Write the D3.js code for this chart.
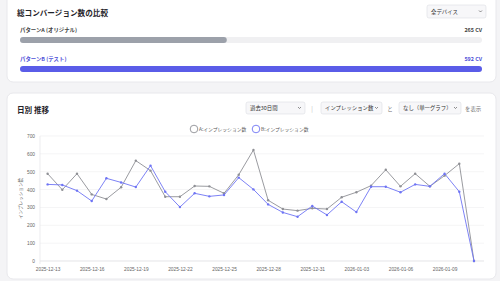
<script src="https://cdn.jsdelivr.net/npm/d3@7"></script>
<style>
  body { margin: 0; background: #f4f4f6; }
  svg { display: block; font-family: "Noto Sans CJK JP", "Noto Sans", sans-serif; }
</style>
<svg id="main_canvas" width=500 height=281></svg>
<script>
  "use strict";
  const WIDTH = 500;
  const HEIGHT = 281;

  // --- data ---
  const patterns = ["パターンA (オリジナル)", "パターンB (テスト)"];
  const conversions = [265, 592];

  const dates = [
    "2025-12-13", "2025-12-14", "2025-12-15", "2025-12-16", "2025-12-17", "2025-12-18",
    "2025-12-19", "2025-12-20", "2025-12-21", "2025-12-22", "2025-12-23", "2025-12-24",
    "2025-12-25", "2025-12-26", "2025-12-27", "2025-12-28", "2025-12-29", "2025-12-30",
    "2025-12-31", "2026-01-01", "2026-01-02", "2026-01-03", "2026-01-04", "2026-01-05",
    "2026-01-06", "2026-01-07", "2026-01-08", "2026-01-09", "2026-01-10", "2026-01-11"
  ];
  const impressionsA = [489, 399, 489, 373, 347, 413, 562, 506, 360, 360, 420, 418,
                        379, 483, 622, 340, 291, 282, 295, 291, 357, 385, 422, 511,
                        418, 489, 418, 478, 545, 0];
  const impressionsB = [429, 426, 394, 336, 463, 440, 414, 534, 388, 302, 379, 362,
                        370, 467, 401, 317, 272, 248, 308, 258, 332, 274, 416, 416,
                        385, 429, 418, 489, 388, 0];
  const yTicks = [0, 100, 200, 300, 400, 500, 600, 700];
  const seriesNames = ["A:インプレッション数", "B:インプレッション数"];

  const GREY = "#8f9095";
  const BLUE = "#6e74f4";
  const BAR_A = "#9ca1aa";
  const BAR_B = "#5a5ce8";

  const canvas = d3.select("#main_canvas");

  // Cards
  canvas.append("rect")
    .attr("x", 7).attr("y", -6).attr("width", 489).attr("height", 88)
    .attr("rx", 6).attr("fill", "white").attr("stroke", "#e8e8ec");
  canvas.append("rect")
    .attr("x", 7).attr("y", 93).attr("width", 489).attr("height", 186)
    .attr("rx", 6).attr("fill", "white").attr("stroke", "#e8e8ec");

  // --- top card: conversion comparison ---
  canvas.append("text")
    .attr("x", 17).attr("y", 16)
    .attr("font-size", 7.6).attr("font-weight", "bold").attr("fill", "#1f2328")
    .text("総コンバージョン数の比較");

  // device select
  const drawSelect = (x, y, w, h, label) => {
    canvas.append("rect")
      .attr("x", x).attr("y", y).attr("width", w).attr("height", h)
      .attr("rx", 2).attr("fill", "#f7f7f9").attr("stroke", "#dcdde2").attr("stroke-width", 0.6);
    canvas.append("text")
      .attr("x", x + 4).attr("y", y + h / 2 + 2)
      .attr("font-size", 5.4).attr("fill", "#333")
      .text(label);
    canvas.append("path")
      .attr("d", `M${x + w - 7},${y + h / 2 - 1} l1.5,1.5 l1.5,-1.5`)
      .attr("fill", "none").attr("stroke", "#444").attr("stroke-width", 0.6);
  };
  drawSelect(427, 5, 59, 13, "全デバイス");

  const barScale = d3.scaleLinear().domain([0, d3.max(conversions)]).range([0, 462]);
  const barTop = [37, 66];
  const labelY = [32, 61];
  const barColors = [BAR_A, BAR_B];
  const labelColors = ["#444", "#4e4fd8"];

  patterns.forEach((p, i) => {
    canvas.append("text")
      .attr("x", 20).attr("y", labelY[i])
      .attr("font-size", 5.4).attr("font-weight", "bold").attr("fill", labelColors[i])
      .text(p);
    canvas.append("text")
      .attr("x", 482).attr("y", labelY[i]).attr("text-anchor", "end")
      .attr("font-size", 5.4).attr("font-weight", "bold").attr("fill", labelColors[i])
      .text(`${conversions[i]} CV`);
    canvas.append("rect")
      .attr("x", 20).attr("y", barTop[i]).attr("width", 462).attr("height", 6)
      .attr("rx", 3).attr("fill", "#f0f0f2");
    canvas.append("rect")
      .attr("x", 20).attr("y", barTop[i]).attr("width", barScale(conversions[i])).attr("height", 6)
      .attr("rx", 3).attr("fill", barColors[i]);
  });

  // --- bottom card: daily trend ---
  canvas.append("text")
    .attr("x", 17).attr("y", 113)
    .attr("font-size", 7.6).attr("font-weight", "bold").attr("fill", "#1f2328")
    .text("日別 推移");

  drawSelect(246, 102, 59, 12, "過去30日間");
  canvas.append("text").attr("x", 312).attr("y", 110.5).attr("font-size", 6).attr("fill", "#bbb")
    .attr("text-anchor", "middle").text("|");
  drawSelect(321, 102, 61, 12, "インプレッション数");
  canvas.append("text").attr("x", 390).attr("y", 110.5).attr("font-size", 5.4).attr("fill", "#777")
    .attr("text-anchor", "middle").text("と");
  drawSelect(399, 102, 62, 12, "なし（単一グラフ）");
  canvas.append("text").attr("x", 465).attr("y", 110.5).attr("font-size", 5.4).attr("fill", "#777")
    .text("を表示");

  // Legend
  const legendX = [194, 256];
  const legendColors = [GREY, BLUE];
  seriesNames.forEach((n, i) => {
    canvas.append("circle")
      .attr("cx", legendX[i]).attr("cy", 129).attr("r", 3.8)
      .attr("fill", "white").attr("stroke", legendColors[i]).attr("stroke-width", 0.9);
    canvas.append("text")
      .attr("x", legendX[i] + 5).attr("y", 131)
      .attr("font-size", 4.8).attr("fill", "#555")
      .text(n);
  });

  // Scales
  const x = d3.scalePoint().domain(dates).range([47.6, 474]);
  const y = d3.scaleLinear().domain([0, 700]).range([261, 136]);

  // grid
  canvas.append("g")
    .selectAll("line")
    .data(yTicks)
    .enter()
    .append("line")
    .attr("x1", 40).attr("x2", 484)
    .attr("y1", d => y(d)).attr("y2", d => y(d))
    .attr("stroke", d => d === 0 ? "#d8d8dc" : "#efeff1")
    .attr("stroke-width", 0.7);

  canvas.append("line")
    .attr("x1", 40).attr("x2", 40).attr("y1", 136).attr("y2", 264)
    .attr("stroke", "#e4e4e8").attr("stroke-width", 0.7);

  // y axis
  const yAxis = d3.axisLeft(y).tickValues(yTicks).tickSize(0).tickPadding(5);
  const gy = canvas.append("g").attr("transform", "translate(40,0)").call(yAxis);
  gy.select(".domain").remove();
  gy.selectAll("text").attr("font-size", 4.8).attr("fill", "#666").attr("font-family", null);

  // x axis
  const xAxis = d3.axisBottom(x)
    .tickValues(dates.filter((d, i) => i % 3 === 0))
    .tickSize(0).tickPadding(5);
  const gx = canvas.append("g").attr("transform", "translate(0,263)").call(xAxis);
  gx.select(".domain").remove();
  gx.selectAll("text").attr("font-size", 4.8).attr("fill", "#666").attr("font-family", null);

  // y axis title
  canvas.append("text")
    .attr("transform", `translate(22,${y(350)}) rotate(-90)`)
    .attr("text-anchor", "middle")
    .attr("font-size", 4.6).attr("fill", "#666")
    .text("インプレッション数");

  // Lines
  const line = d3.line().x((d, i) => x(dates[i])).y(d => y(d));
  const series = [impressionsA, impressionsB];
  series.forEach((s, k) => {
    canvas.append("path")
      .datum(s)
      .attr("d", line)
      .attr("fill", "none")
      .attr("stroke", legendColors[k])
      .attr("stroke-width", 0.9);
    canvas.append("g")
      .selectAll("circle")
      .data(s)
      .enter()
      .append("circle")
      .attr("cx", (d, i) => x(dates[i]))
      .attr("cy", d => y(d))
      .attr("r", 1.2)
      .attr("fill", legendColors[k]);
  });
</script>
